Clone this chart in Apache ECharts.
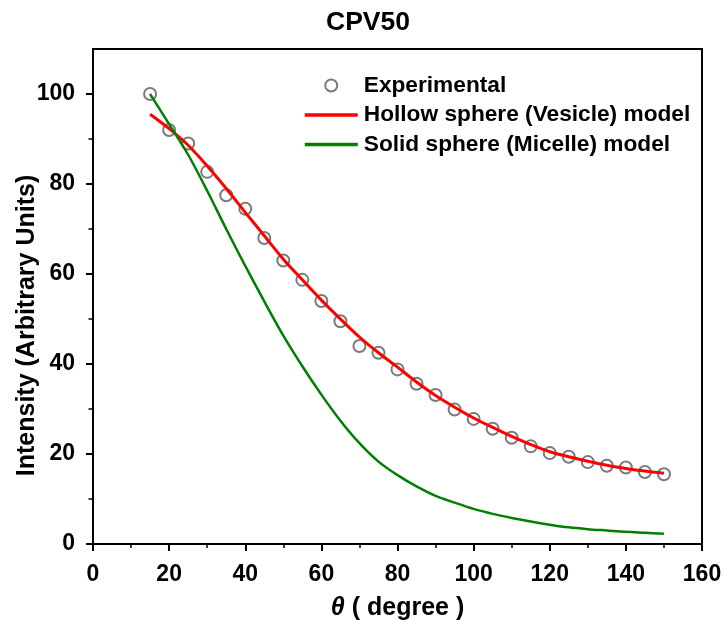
<!DOCTYPE html>
<html>
<head>
<meta charset="utf-8">
<title>CPV50</title>
<script src="https://cdn.jsdelivr.net/npm/echarts@6/dist/echarts.min.js"></script>
<style>
  html, body { margin: 0; padding: 0; background: #fff; }
  #chart { width: 724px; height: 620px; }
</style>
</head>
<body>
<div id="chart"></div>
<script>
// Scattering angle (degrees)
const theta = [15, 20, 25, 30, 35, 40, 45, 50, 55, 60, 65, 70, 75, 80, 85, 90,
               95, 100, 105, 110, 115, 120, 125, 130, 135, 140, 145, 150];

// Measured intensity
const experimental = [100, 92, 89, 82.7, 77.5, 74.5, 68, 63, 58.7, 54, 49.5, 44, 42.5, 38.8, 35.6, 33.1,
                      29.9, 27.8, 25.6, 23.6, 21.7, 20.2, 19.4, 18.2, 17.4, 17.0, 16.0, 15.5];

// Hollow sphere (vesicle) form-factor fit
const hollowModel = [95.5, 92.3, 88.6, 84, 79, 73.7, 68.5, 63.3, 58.7, 54.2, 50, 46, 42.5, 39.3, 36, 33,
                     30.4, 28, 25.9, 23.9, 22.1, 20.5, 19.4, 18.4, 17.5, 16.8, 16.2, 15.7];

// Solid sphere (micelle) form-factor fit
const solidModel = [100, 93.3, 86.5, 78.5, 70, 61.8, 53.9, 46.3, 39.5, 33.2, 27.4, 22.4, 18.3, 15.3, 12.8, 10.7,
                    9.2, 7.8, 6.7, 5.8, 5.0, 4.3, 3.7, 3.3, 3.0, 2.7, 2.5, 2.3];

const xTicks = { min: 0, max: 160, step: 20 };
const yTicks = { min: 0, max: 110, step: 20 };
const yMinorTicks = [10, 30, 50, 70, 90];

const legendNames = ['Experimental', 'Hollow sphere (Vesicle) model', 'Solid sphere (Micelle) model'];

const pairs = (xs, ys) => xs.map((x, i) => [x, ys[i]]);

const FONT = '"Liberation Sans", Arial, sans-serif';
const axisLineStyle = { color: '#000', width: 2 };

const chart = echarts.init(document.getElementById('chart'), null, { renderer: 'canvas' });

chart.setOption({
  backgroundColor: '#fff',
  animation: false,
  title: {
    text: 'CPV50',
    left: 326,
    top: 9,
    padding: 0,
    textStyle: { fontFamily: FONT, fontSize: 26.5, fontWeight: 'bold', color: '#000' }
  },
  legend: {
    data: legendNames.map((n, i) => i === 0
      ? { name: n, icon: 'emptyCircle' }
      : { name: n, itemStyle: { opacity: 0 }, lineStyle: { width: 3.5 } }),
    orient: 'vertical',
    left: 303,
    top: 74,
    padding: 0,
    itemWidth: 53,
    itemHeight: 12,
    itemGap: 6.5,
    textStyle: { fontFamily: FONT, fontSize: 22.7, fontWeight: 'bold', color: '#000', lineHeight: 22, padding: [0, 0, 0, 1] }
  },
  grid: {
    left: 93, right: 22, top: 49, bottom: 76,
    outerBoundsMode: 'none',
    show: true, borderColor: '#000', borderWidth: 2, backgroundColor: 'transparent'
  },
  xAxis: {
    type: 'value',
    min: xTicks.min, max: xTicks.max, interval: xTicks.step,
    name: '{t|θ}{n| ( degree )}',
    nameLocation: 'middle',
    nameGap: 52,
    nameMoveOverlap: false,
    nameTextStyle: {
      rich: {
        t: { fontFamily: FONT, fontSize: 25, fontWeight: 'bold', fontStyle: 'italic', color: '#000' },
        n: { fontFamily: FONT, fontSize: 25, fontWeight: 'bold', color: '#000' }
      }
    },
    axisLine: { lineStyle: axisLineStyle },
    axisTick: { inside: false, length: 7, lineStyle: { color: '#000', width: 2 } },
    minorTick: { show: true, splitNumber: 2, length: 4, lineStyle: { color: '#000', width: 1.5 } },
    splitLine: { show: false },
    minorSplitLine: { show: false },
    axisLabel: { margin: 19, fontFamily: FONT, fontSize: 23, fontWeight: 'bold', color: '#000' }
  },
  yAxis: [{
    type: 'value',
    min: yTicks.min, max: yTicks.max, interval: yTicks.step,
    name: 'Intensity (Arbitrary Units)',
    nameLocation: 'middle',
    nameGap: 53,
    nameMoveOverlap: false,
    nameTextStyle: { fontFamily: FONT, fontSize: 25, fontWeight: 'bold', color: '#000', padding: [0, 58, 0, 0] },
    axisLine: { lineStyle: axisLineStyle },
    axisTick: { inside: false, length: 7, lineStyle: { color: '#000', width: 2 } },
    splitLine: { show: false },
    axisLabel: { margin: 18, showMaxLabel: false, fontFamily: FONT, fontSize: 23, fontWeight: 'bold', color: '#000' }
  }, {
    type: 'value',
    position: 'left',
    min: yTicks.min, max: yTicks.max,
    axisLine: { show: false },
    axisTick: { show: true, inside: false, length: 4.5, customValues: yMinorTicks, lineStyle: { color: '#000', width: 1.5 } },
    axisLabel: { show: false, customValues: yMinorTicks },
    splitLine: { show: false }
  }],
  series: [{
    name: legendNames[0],
    type: 'scatter',
    data: pairs(theta, experimental),
    symbol: 'emptyCircle',
    symbolSize: 12,
    itemStyle: { color: '#5a5a5a', borderWidth: 1.4 },
    z: 2
  }, {
    name: legendNames[1],
    type: 'line',
    data: pairs(theta, hollowModel),
    symbol: 'none',
    smooth: 0.3,
    lineStyle: { color: '#ff0000', width: 3 },
    itemStyle: { color: '#ff0000' },
    z: 3
  }, {
    name: legendNames[2],
    type: 'line',
    data: pairs(theta, solidModel),
    symbol: 'none',
    smooth: 0.3,
    lineStyle: { color: '#008000', width: 2.5 },
    itemStyle: { color: '#008000' },
    z: 4
  }]
});
</script>
</body>
</html>
